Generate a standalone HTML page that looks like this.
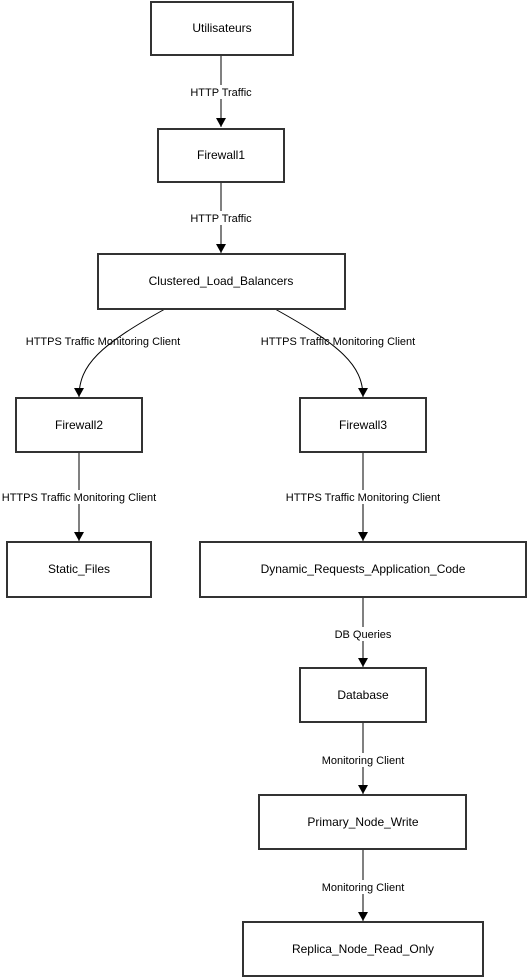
<!DOCTYPE html>
<html><head><style>
html,body{margin:0;padding:0;background:#fff;}
svg{display:block;}
text{font-family:"Liberation Sans",Arial,sans-serif;fill:#000;}
.n{font-size:12px;text-anchor:middle;}
.l{font-size:11px;text-anchor:middle;}
rect.b{fill:#fff;stroke:#333;stroke-width:2;}
path.e{fill:none;stroke:#000;stroke-width:1;}
</style></head><body>
<svg width="527" height="977" viewBox="0 0 527 977" xmlns="http://www.w3.org/2000/svg">
<defs><marker id="a" markerWidth="10" markerHeight="10" refX="5" refY="9" orient="auto" markerUnits="userSpaceOnUse" viewBox="0 0 10 10">
<path d="M0,0 L10,0 L5,9 z" fill="#000" transform="rotate(-90 5 5)"/></marker>
<marker id="m" markerWidth="10" markerHeight="10" refX="9" refY="5" orient="auto" markerUnits="userSpaceOnUse" viewBox="0 0 10 10"><path d="M0,0 L9,5 L0,10 z" fill="#000"/></marker></defs>

<path class="e" d="M221,55 V127" marker-end="url(#m)"/>
<path class="e" d="M221,182 V253" marker-end="url(#m)"/>
<path class="e" d="M165,309 C100,345 79,365 79,397" marker-end="url(#m)"/>
<path class="e" d="M275,309 C340,345 363,365 363,397" marker-end="url(#m)"/>
<path class="e" d="M79,452 V541" marker-end="url(#m)"/>
<path class="e" d="M363,452 V541" marker-end="url(#m)"/>
<path class="e" d="M363,597 V667" marker-end="url(#m)"/>
<path class="e" d="M363,722 V794" marker-end="url(#m)"/>
<path class="e" d="M363,849 V921" marker-end="url(#m)"/>

<rect x="186" y="85" width="70" height="14" fill="#fff"/><text class="l" x="221" y="96">HTTP Traffic</text>
<rect x="186" y="211" width="70" height="14" fill="#fff"/><text class="l" x="221" y="222">HTTP Traffic</text>
<text class="l" x="103" y="345">HTTPS Traffic Monitoring Client</text>
<text class="l" x="338" y="345">HTTPS Traffic Monitoring Client</text>
<rect x="2" y="490" width="155" height="14" fill="#fff"/><text class="l" x="79" y="501">HTTPS Traffic Monitoring Client</text>
<rect x="286" y="490" width="155" height="14" fill="#fff"/><text class="l" x="363" y="501">HTTPS Traffic Monitoring Client</text>
<rect x="333" y="627" width="60" height="14" fill="#fff"/><text class="l" x="363" y="638">DB Queries</text>
<rect x="320" y="753" width="86" height="14" fill="#fff"/><text class="l" x="363" y="764">Monitoring Client</text>
<rect x="320" y="880" width="86" height="14" fill="#fff"/><text class="l" x="363" y="891">Monitoring Client</text>

<rect class="b" x="151" y="2" width="142" height="53"/><text class="n" x="222" y="32">Utilisateurs</text>
<rect class="b" x="158" y="129" width="126" height="53"/><text class="n" x="221" y="159">Firewall1</text>
<rect class="b" x="98" y="254" width="247" height="55"/><text class="n" x="221" y="285">Clustered_Load_Balancers</text>
<rect class="b" x="16" y="398" width="126" height="54"/><text class="n" x="79" y="429">Firewall2</text>
<rect class="b" x="300" y="398" width="126" height="54"/><text class="n" x="363" y="429">Firewall3</text>
<rect class="b" x="7" y="542" width="144" height="55"/><text class="n" x="79" y="573">Static_Files</text>
<rect class="b" x="200" y="542" width="326" height="55"/><text class="n" x="363" y="573">Dynamic_Requests_Application_Code</text>
<rect class="b" x="300" y="668" width="126" height="54"/><text class="n" x="363" y="699">Database</text>
<rect class="b" x="259" y="795" width="207" height="54"/><text class="n" x="363" y="826">Primary_Node_Write</text>
<rect class="b" x="243" y="922" width="240" height="54"/><text class="n" x="363" y="953">Replica_Node_Read_Only</text>
</svg>
</body></html>
